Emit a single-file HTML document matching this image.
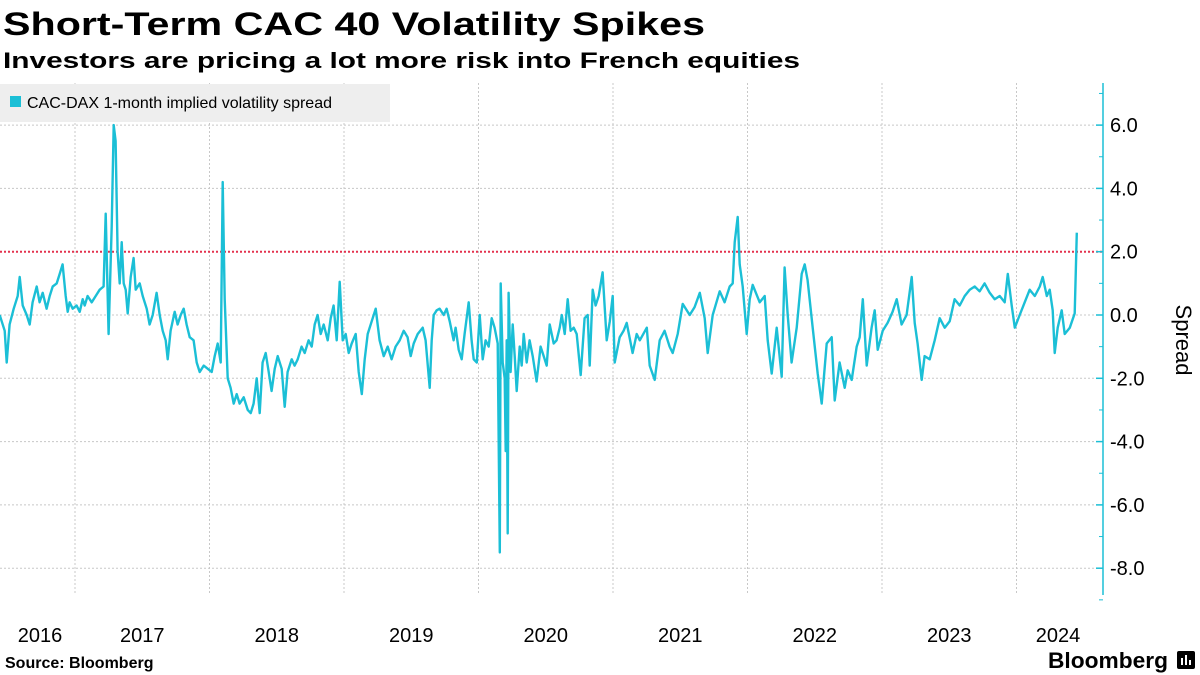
<!DOCTYPE html>
<html><head><meta charset="utf-8"><style>
html,body{margin:0;padding:0;background:#fff;}
svg{display:block;font-family:"Liberation Sans","DejaVu Sans",sans-serif;}
</style></head><body>
<svg id="chart" width="1200" height="675" viewBox="0 0 1200 675">
<text x="3" y="35" font-size="32" font-weight="bold" fill="#000" textLength="702" lengthAdjust="spacingAndGlyphs">Short-Term CAC 40 Volatility Spikes</text>
<text x="3" y="68" font-size="22" font-weight="bold" fill="#000" textLength="797" lengthAdjust="spacingAndGlyphs">Investors are pricing a lot more risk into French equities</text>
<g id="grid"></g>
<rect x="0" y="84" width="390" height="38" fill="#eeeeee"/>
<rect x="10" y="96" width="11" height="11" fill="#1bbfd6"/>
<text x="27" y="108" font-size="16" fill="#000">CAC-DAX 1-month implied volatility spread</text>
<g id="marks"></g>
<g id="axis"></g>
<text transform="translate(1176,340) rotate(90)" text-anchor="middle" font-size="22" fill="#000">Spread</text>
<text x="5" y="668" font-size="16" font-weight="bold" fill="#000">Source: Bloomberg</text>
<text x="1048" y="668" font-size="22" font-weight="bold" fill="#000" textLength="120" lengthAdjust="spacingAndGlyphs">Bloomberg</text>
<g><rect x="1177" y="651" width="18" height="18" rx="2" fill="#000"/><rect x="1181" y="658" width="2" height="7" fill="#fff"/><rect x="1185" y="655" width="2" height="10" fill="#fff"/><rect x="1189" y="660" width="2" height="5" fill="#fff"/></g>
</svg>
<script>
const dates=[2016.440,2016.477,2016.492,2016.514,2016.544,2016.574,2016.589,2016.611,2016.641,2016.663,2016.685,2016.715,2016.737,2016.760,2016.789,2016.812,2016.834,2016.864,2016.886,2016.908,2016.931,2016.946,2016.960,2016.983,2017.012,2017.035,2017.057,2017.072,2017.094,2017.124,2017.154,2017.184,2017.213,2017.228,2017.250,2017.273,2017.288,2017.302,2017.317,2017.332,2017.347,2017.362,2017.377,2017.392,2017.414,2017.436,2017.451,2017.481,2017.503,2017.533,2017.555,2017.578,2017.607,2017.630,2017.652,2017.674,2017.689,2017.711,2017.741,2017.763,2017.786,2017.808,2017.830,2017.853,2017.882,2017.905,2017.927,2017.957,2017.987,2018.016,2018.039,2018.061,2018.083,2018.098,2018.113,2018.135,2018.157,2018.180,2018.202,2018.224,2018.254,2018.284,2018.306,2018.328,2018.351,2018.373,2018.395,2018.418,2018.440,2018.462,2018.485,2018.507,2018.537,2018.559,2018.581,2018.611,2018.633,2018.656,2018.685,2018.708,2018.737,2018.760,2018.782,2018.804,2018.827,2018.849,2018.879,2018.901,2018.923,2018.946,2018.968,2018.990,2019.013,2019.035,2019.057,2019.087,2019.109,2019.132,2019.154,2019.176,2019.206,2019.236,2019.265,2019.295,2019.325,2019.354,2019.384,2019.414,2019.444,2019.473,2019.496,2019.518,2019.548,2019.585,2019.607,2019.637,2019.652,2019.667,2019.689,2019.711,2019.741,2019.763,2019.786,2019.815,2019.830,2019.853,2019.875,2019.897,2019.927,2019.949,2019.964,2019.987,2020.009,2020.031,2020.053,2020.076,2020.098,2020.120,2020.143,2020.158,2020.165,2020.180,2020.195,2020.202,2020.210,2020.217,2020.224,2020.239,2020.254,2020.269,2020.284,2020.306,2020.321,2020.336,2020.358,2020.380,2020.403,2020.432,2020.462,2020.485,2020.507,2020.529,2020.559,2020.581,2020.604,2020.619,2020.641,2020.663,2020.685,2020.708,2020.730,2020.760,2020.789,2020.812,2020.827,2020.849,2020.871,2020.894,2020.923,2020.953,2020.976,2020.998,2021.013,2021.050,2021.079,2021.102,2021.146,2021.176,2021.199,2021.251,2021.273,2021.310,2021.347,2021.384,2021.421,2021.444,2021.481,2021.518,2021.570,2021.607,2021.645,2021.682,2021.704,2021.741,2021.793,2021.830,2021.868,2021.890,2021.905,2021.927,2021.942,2021.964,2021.994,2022.016,2022.039,2022.091,2022.128,2022.150,2022.180,2022.217,2022.254,2022.276,2022.299,2022.328,2022.366,2022.403,2022.425,2022.447,2022.485,2022.522,2022.552,2022.589,2022.626,2022.648,2022.685,2022.723,2022.745,2022.775,2022.812,2022.834,2022.857,2022.886,2022.923,2022.946,2022.968,2023.005,2023.042,2023.079,2023.109,2023.146,2023.183,2023.221,2023.243,2023.265,2023.295,2023.317,2023.355,2023.392,2023.429,2023.466,2023.503,2023.540,2023.578,2023.615,2023.652,2023.689,2023.726,2023.763,2023.801,2023.838,2023.875,2023.912,2023.935,2023.964,2023.987,2024.024,2024.061,2024.098,2024.136,2024.173,2024.195,2024.225,2024.247,2024.269,2024.284,2024.306,2024.336,2024.358,2024.396,2024.433,2024.448];
const spread=[0.0,-0.5,-1.5,-0.3,0.2,0.6,1.2,0.3,0.0,-0.3,0.4,0.9,0.4,0.7,0.2,0.6,0.9,1.0,1.3,1.6,0.6,0.1,0.4,0.2,0.3,0.1,0.5,0.3,0.6,0.4,0.6,0.8,0.9,3.2,-0.6,2.8,6.0,5.5,2.0,1.0,2.3,1.0,0.8,0.05,1.2,1.8,0.8,1.0,0.6,0.2,-0.3,0.0,0.7,0.0,-0.5,-0.8,-1.4,-0.5,0.1,-0.3,0.0,0.2,-0.3,-0.7,-0.8,-1.5,-1.8,-1.6,-1.7,-1.8,-1.3,-0.9,-1.5,4.2,0.5,-2.0,-2.3,-2.8,-2.5,-2.8,-2.6,-3.0,-3.1,-2.8,-2.0,-3.1,-1.5,-1.2,-1.8,-2.4,-1.7,-1.3,-1.7,-2.9,-1.8,-1.4,-1.6,-1.4,-1.0,-1.2,-0.8,-1.0,-0.3,0.0,-0.6,-0.3,-0.8,-0.1,0.3,-0.8,1.05,-0.8,-0.6,-1.2,-0.9,-0.6,-1.8,-2.5,-1.4,-0.6,-0.2,0.2,-0.8,-1.3,-1.0,-1.4,-1.0,-0.8,-0.5,-0.7,-1.3,-0.9,-0.6,-0.4,-0.8,-2.3,-0.8,0.0,0.15,0.2,0.0,0.2,-0.2,-0.8,-0.4,-1.1,-1.4,-0.6,0.4,-0.8,-1.4,-1.5,0.0,-1.4,-0.8,-1.0,-0.1,-0.4,-0.9,-7.5,1.0,-1.5,-2.0,-4.3,-0.8,-6.9,0.7,-1.8,-0.3,-1.3,-2.4,-1.0,-1.6,-0.6,-1.5,-0.8,-1.3,-2.1,-1.0,-1.3,-1.6,-0.3,-0.9,-0.8,-0.4,0.0,-0.6,0.5,-0.5,-0.4,-0.6,-1.9,-0.1,0.0,-1.6,0.8,0.3,0.6,1.35,-0.8,-0.2,0.6,-1.5,-0.7,-0.5,-0.25,-1.2,-0.6,-0.8,-0.4,-1.6,-2.05,-0.8,-0.5,-1.0,-1.2,-0.6,0.35,0.0,0.25,0.7,-0.1,-1.2,0.0,0.75,0.4,0.9,1.0,2.3,3.1,1.6,0.9,-0.6,0.5,0.95,0.4,0.6,-0.8,-1.85,-0.4,-1.95,1.5,0.0,-1.5,-0.4,1.3,1.6,1.1,-0.4,-1.85,-2.8,-0.9,-0.7,-2.7,-1.5,-2.3,-1.75,-2.05,-1.0,-0.7,0.5,-1.6,-0.4,0.15,-1.1,-0.5,-0.25,0.1,0.5,-0.3,0.0,1.2,-0.25,-0.9,-2.05,-1.3,-1.4,-0.8,-0.1,-0.4,-0.2,0.5,0.3,0.6,0.8,0.9,0.75,1.0,0.7,0.5,0.6,0.4,1.3,0.3,-0.4,0.0,0.4,0.8,0.6,0.9,1.2,0.6,0.8,0.15,-1.2,-0.4,0.15,-0.6,-0.4,0.05,2.6];
const yTicks=[6,4,2,0,-2,-4,-6,-8];
const yTickLabels=["6.0","4.0","2.0","0.0","-2.0","-4.0","-6.0","-8.0"];
const years=[2016,2017,2018,2019,2020,2021,2022,2023,2024];
const threshold=[2];

const NS="http://www.w3.org/2000/svg";
const X=t=>75+(t-2017)*134.5;
const Y=v=>315-v*31.65;
const axisX=1103, plotTop=83, plotBottom=595;
function mk(tag,attrs,parent){const e=document.createElementNS(NS,tag);for(const k in attrs)e.setAttribute(k,attrs[k]);parent.appendChild(e);return e;}
const grid=document.getElementById('grid'), marks=document.getElementById('marks'), axis=document.getElementById('axis');

yTicks.forEach((v,i)=>{
  const g=mk('line',{x1:0,x2:axisX,y1:Y(v),y2:Y(v),stroke:'#c8c8c8','stroke-width':1,'stroke-dasharray':'2,2'},grid);
  
  
  const tk=mk('line',{x1:axisX-7,x2:axisX,y1:Y(v),y2:Y(v),stroke:'#1bbfd6','stroke-width':1.5},axis);
  
  
  const t=mk('text',{x:1110,y:Y(v)+7,'font-size':20,fill:'#000'},axis);
  t.textContent=yTickLabels[i];
  
  
});
for(let v=7;v>=-9;v-=2){
  const m=mk('line',{x1:axisX-4,x2:axisX,y1:Y(v),y2:Y(v),stroke:'#1bbfd6','stroke-width':1},axis);
  
  
}
const al=mk('line',{x1:axisX,x2:axisX,y1:plotTop,y2:plotBottom,stroke:'#1bbfd6','stroke-width':1.5},axis);



years.forEach(yr=>{
  if(yr>2016){
    const g=mk('line',{x1:X(yr),x2:X(yr),y1:plotTop,y2:plotBottom,stroke:'#c8c8c8','stroke-width':1,'stroke-dasharray':'2,2'},grid);
    
    
  }
  const lx=yr===2016?40:(yr===2024?1058:X(yr+0.5));
  const t=mk('text',{x:lx,y:642,'font-size':20,fill:'#000','text-anchor':'middle'},grid);
  t.textContent=String(yr);
  
  
});

threshold.forEach(v=>{
  const r=mk('line',{x1:0,x2:axisX,y1:Y(v),y2:Y(v),stroke:'#e3324f','stroke-width':2,'stroke-dasharray':'2,2'},marks);
  
  
});

const d=dates.map((t,i)=>(i?'L':'M')+X(t).toFixed(1)+','+Y(spread[i]).toFixed(1)).join('');
const p=mk('path',{d:d,fill:'none',stroke:'#1bbfd6','stroke-width':2.4,'stroke-linejoin':'round'},marks);


</script>
</body></html>
